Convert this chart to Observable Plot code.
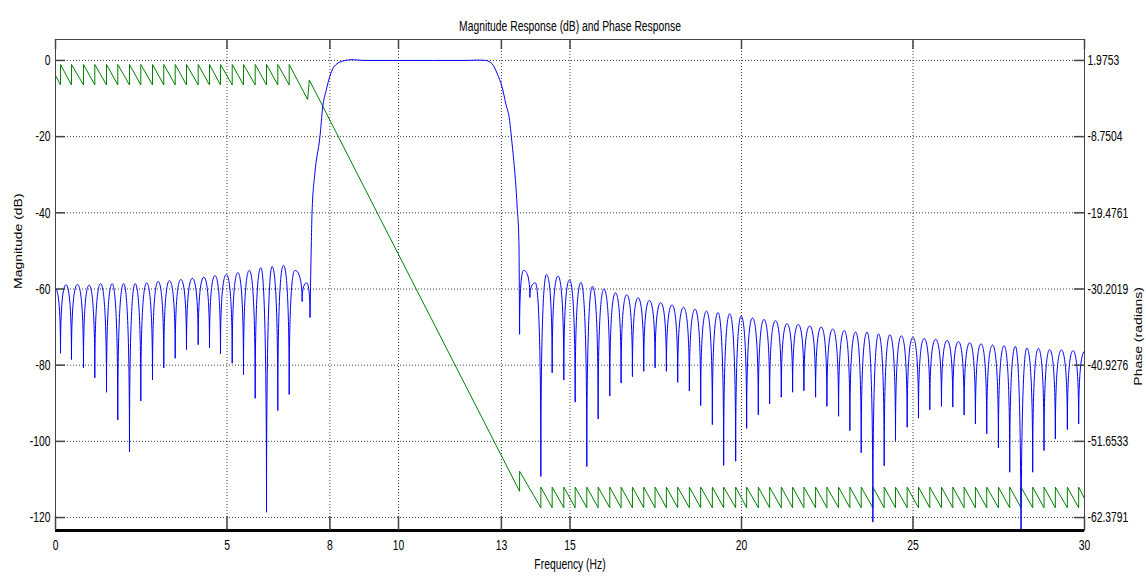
<!DOCTYPE html>
<html><head><meta charset="utf-8">
<script src="https://cdn.jsdelivr.net/npm/d3@7"></script>
<script src="https://cdn.jsdelivr.net/npm/@observablehq/plot@0.6"></script>
<style>html,body{margin:0;padding:0;background:#fff;}</style>
</head><body><div id="chart"></div>
<script>
// ---------- axis ticks ----------
const xTicks = [0, 5, 8, 10, 13, 15, 20, 25, 30];
const yTicks = [-120, -100, -80, -60, -40, -20, 0];
const phaseTickLabels = ["-62.3791", "-51.6533", "-40.9276", "-30.2019", "-19.4761", "-8.7504", "1.9753"];
const phaseAxisTop = 1.9753, phaseAxisBottom = -62.3791;   // radians at 0 dB and -120 dB

// ---------- magnitude (dB) ----------
const leftNullF  = [0.146,0.466,0.816,1.146,1.487,1.816,2.157,2.487,2.828,3.157,3.490,3.819,4.160,4.490,4.810,5.152,5.481,5.822,6.152,6.481,6.813];
const leftNullDb = [-76.9,-78.5,-80.7,-83.3,-87.1,-94.4,-102.8,-89.4,-83.9,-80.7,-78.2,-75.9,-74.6,-75.5,-77.0,-79.5,-82.5,-88.7,-118.6,-91.9,-87.7];
const leftPeakDb = [-58.9,-58.8,-59.0,-58.6,-58.6,-58.6,-58.6,-58.4,-58.0,-57.8,-57.5,-57.2,-56.9,-56.5,-56.2,-55.7,-55.1,-54.4,-54.1,-53.8];
const leftHeadF = [0], leftHeadDb = [-59.8];
const leftTailF = [6.98, 7.19, 7.32, 7.42], leftTailDb = [-55.1, -63.3, -58.4, -67.4];

const passF  = [7.42,7.46,7.48,7.56,7.71,7.79,7.89,7.99,8.11,8.36,8.65,9.0,10,11,12.0,12.29,12.54,12.73,12.88,13.02,13.13,13.24,13.29,13.36,13.41,13.46,13.51,13.53];
const passDb = [-67.4,-47.3,-39.8,-29.8,-20,-12.3,-7.9,-4.4,-1.75,-0.2,0.2,0.0,0,0,0,0.1,0,-0.9,-3.5,-7.0,-11.4,-15.8,-20,-26.3,-31.5,-38.5,-47.3,-71.8];

const rightHeadF = [13.53, 13.65, 13.83, 13.99], rightHeadDb = [-71.8, -55.1, -62.2, -58.4];
const rightNullF  = [14.15,14.48,14.82,15.15,15.49,15.82,16.16,16.49,16.82,17.15,17.48,17.81,18.14,18.48,18.81,19.15,19.48,19.83,20.15,20.49,20.82,21.16,21.49,21.82,22.16,22.49,22.83,23.16,23.49,23.83,24.16,24.49,24.83,25.16,25.49,25.83,26.16,26.49,26.82,27.15,27.49,27.82,28.15,28.49,28.82,29.15,29.50,29.83];
const rightNullDb = [-109.2,-82.0,-83.9,-89.7,-106.6,-94.1,-88.1,-84.7,-83.0,-81.6,-80.7,-81.6,-84.5,-86.8,-90.6,-95.6,-106.3,-105.2,-96.6,-93.0,-90.2,
                     -88.4,-87.1,-86.7,-88.4,-90.8,-93.4,-97.2,-103.0,-121.2,-106.4,-99.8,-96.3,-93.9,-91.7,-90.8,-91.0,-93.1,-95.4,-98.0,-101.7,-108.1,-135,-108.1,-102.4,-99.4,-96.9,-95.4];
const rightPeakDb = [-56.2,-56.6,-57.6,-58.3,-59.3,-60.0,-61.0,-61.5,-62.3,-63.0,-63.6,-64.2,-64.8,-65.3,-65.8,-66.2,-66.5,-67.1,-67.6,-68.0,-68.3,
                     -69.1,-69.3,-69.7,-70.0,-70.5,-70.9,-71.3,-71.3,-71.8,-72.0,-72.3,-72.7,-73.0,-73.2,-73.5,-73.8,-74.1,-74.4,-74.7,-74.9,-75.1,-75.5,-75.6,-75.9,-76.0,-76.2];
const rightEndF = [30], rightEndDb = [-76.3];

// ---------- phase (radians) ----------
const leftToothTop = 1.41, leftToothBottom = -1.47;
const rightToothTop = -58.1, rightToothBottom = -61.0;
const phaseStartF = [0], phaseStartRad = [-0.14];
const phaseMidF   = [6.813, 6.813, 7.35, 7.40, 13.53, 13.53];
const phaseMidRad = [leftToothBottom, leftToothTop, -3.52, -0.77, -58.68, -55.86];
const phaseEndF = [30], phaseEndRad = [-59.7];

// ---------- build tables ----------
const pts = (F, V) => F.map((f, i) => ({f, v: V[i]}));
const stopLeft = [...pts(leftHeadF, leftHeadDb)];
leftNullF.forEach((f, i) => {
  stopLeft.push({f, v: leftNullDb[i]});
  if (i < leftPeakDb.length) stopLeft.push({f: (f + leftNullF[i + 1]) / 2, v: leftPeakDb[i]});
});
stopLeft.push(...pts(leftTailF, leftTailDb));
const passband = pts(passF, passDb);
const stopRight = [...pts(rightHeadF, rightHeadDb)];
rightNullF.forEach((f, i) => {
  stopRight.push({f, v: rightNullDb[i]});
  if (i < rightPeakDb.length) stopRight.push({f: (f + rightNullF[i + 1]) / 2, v: rightPeakDb[i]});
});
stopRight.push(...pts(rightEndF, rightEndDb));

const phase = [...pts(phaseStartF, phaseStartRad)];
leftNullF.slice(0, -1).forEach(f => phase.push({f, v: leftToothBottom}, {f, v: leftToothTop}));
phase.push(...pts(phaseMidF, phaseMidRad));
rightNullF.forEach(f => phase.push({f, v: rightToothBottom}, {f, v: rightToothTop}));
phase.push(...pts(phaseEndF, phaseEndRad));
// map phase onto the magnitude scale so the right axis shares the same grid
const radPerDb = (phaseAxisTop - phaseAxisBottom) / 120;
const phaseOnDb = phase.map(d => ({f: d.f, v: (d.v - phaseAxisTop) / radPerDb}));

// ---------- lobe curve: round tops, spiky nulls ----------
function lobeCurve(context) {
  let x0, y0, n = 0;
  return {
    areaStart() {}, areaEnd() {},
    lineStart() { n = 0; },
    lineEnd() {},
    point(x, y) {
      x = +x; y = +y;
      if (n++ === 0) context.moveTo(x, y);
      else {
        const dx = x - x0, dy = y - y0;
        if (dy > 0) context.bezierCurveTo(x0 + 0.5 * dx, y0, x, y0 + 0.25 * dy, x, y);
        else context.bezierCurveTo(x0, y - 0.25 * dy, x - 0.5 * dx, y, x, y);
      }
      x0 = x; y0 = y;
    }
  };
}

const W = 1146, H = 576, mL = 55, mR = 62, mT = 39, mB = 46;
const fw = W - mL - mR, fh = H - mT - mB;
const yDomain = [-123.4, 5.5];
const fmt = d => `${d}`;
const tickColor = "#444";

const chart = Plot.plot({
  width: W, height: H,
  marginLeft: mL, marginRight: mR, marginTop: mT, marginBottom: mB,
  style: {fontFamily: "'Liberation Sans', Arial, sans-serif", fontSize: "15px", background: "#fff", color: "#000"},
  x: {domain: [0, 30]},
  y: {domain: yDomain},
  marks: [
    Plot.gridX(xTicks, {stroke: "#000", strokeOpacity: 0.75, strokeDasharray: "1,2"}),
    Plot.gridY(yTicks, {stroke: "#000", strokeOpacity: 0.75, strokeDasharray: "1,2"}),
    Plot.line(phaseOnDb, {x: "f", y: "v", stroke: "#008000", strokeWidth: 1, clip: true}),
    Plot.line(stopLeft, {x: "f", y: "v", stroke: "#0000ff", strokeWidth: 1, curve: lobeCurve, clip: true}),
    Plot.line(passband, {x: "f", y: "v", stroke: "#0000ff", strokeWidth: 1, curve: "monotone-x", clip: true}),
    Plot.line(stopRight, {x: "f", y: "v", stroke: "#0000ff", strokeWidth: 1, curve: lobeCurve, clip: true}),
    Plot.frame({stroke: tickColor}),
    Plot.ruleY([yDomain[0]], {stroke: "#000", strokeWidth: 3}),
    Plot.tickY(yTicks, {y: d => d, stroke: tickColor, strokeWidth: 1.5, insetRight: fw - 10}),
    Plot.tickY(yTicks, {y: d => d, stroke: tickColor, strokeWidth: 1.5, insetLeft: fw - 10}),
    Plot.tickX(xTicks, {x: d => d, stroke: tickColor, strokeWidth: 1.5, insetBottom: fh - 10}),
    Plot.tickX(xTicks, {x: d => d, stroke: tickColor, strokeWidth: 1.5, insetTop: fh - 14}),
    Plot.axisX(xTicks, {anchor: "bottom", tickSize: 0, tickPadding: 9, tickFormat: fmt, label: null}),
    Plot.axisY(yTicks, {anchor: "left", tickSize: 0, tickPadding: 5, tickFormat: fmt, label: null}),
    Plot.axisY(yTicks, {anchor: "right", tickSize: 0, tickPadding: 3, tickFormat: (d, i) => phaseTickLabels[yTicks.indexOf(d)], label: null}),
    Plot.text(["Magnitude Response (dB) and Phase Response"], {frameAnchor: "top", dy: -19, fill: "#000"}),
    Plot.text(["Frequency (Hz)"], {frameAnchor: "bottom", dy: 38, fill: "#000"}),
    Plot.text(["Magnitude (dB)"], {frameAnchor: "left", dx: -37, dy: 4, rotate: -90, fill: "#000", fontSize: 14, className: "rot"}),
    Plot.text(["Phase (radians)"], {frameAnchor: "right", dx: 54, dy: 2, rotate: -90, fill: "#000", fontSize: 14, className: "rot"})
  ]
});

// narrow the horizontal labels (the reference uses a tall, condensed face)
chart.querySelectorAll("text").forEach(el => {
  const rotated = el.closest(".rot");
  const s = rotated ? "scale(1,0.8)" : "scale(0.69,1)";
  const t = el.getAttribute("transform");
  if (t) el.setAttribute("transform", `${t} ${s}`);
  else {
    const x = +(el.getAttribute("x") || 0), y = +(el.getAttribute("y") || 0);
    el.setAttribute("transform", `translate(${x},${y}) ${s} translate(${-x},${-y})`);
  }
});
document.getElementById("chart").appendChild(chart);
</script>
</body></html>
